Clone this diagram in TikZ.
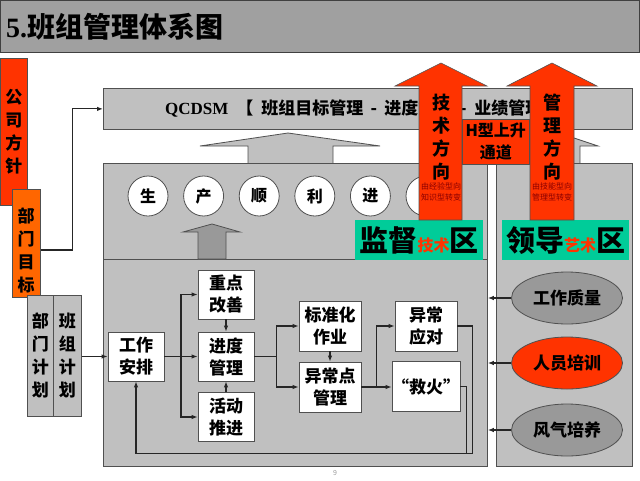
\documentclass[tikz,border=0pt]{standalone}
\usepackage{fontspec}
\setmainfont{Noto Sans CJK SC}
\newfontfamily\serifrm{Liberation Serif}
\usetikzlibrary{arrows.meta, shapes.geometric, positioning, calc}

\definecolor{titlegray}{HTML}{A0A0A0}
\definecolor{panelgray}{HTML}{C0C0C0}
\definecolor{ovalgray}{HTML}{999999}
\definecolor{edgegray}{HTML}{505050}
\definecolor{redorange}{HTML}{FF3300}
\definecolor{orangebox}{HTML}{FF6600}
\definecolor{tealbox}{HTML}{00CC99}
\definecolor{notered}{HTML}{8A0000}

\tikzset{
  panel/.style={draw=edgegray, fill=panelgray, line width=0.8pt, inner sep=0pt},
  vlabel/.style={draw=edgegray, line width=0.6pt, inner sep=0pt, align=center,
    font=\fontsize{17}{23}\selectfont\bfseries},
  vtext/.style={align=center, inner sep=0pt, font=\fontsize{17}{23}\selectfont\bfseries},
  workbox/.style={draw=edgegray, fill=white, line width=0.8pt, inner sep=0pt,
    minimum width=56, minimum height=49, align=center,
    font=\fontsize{17}{22}\selectfont\bfseries},
  wordcircle/.style={circle, draw=edgegray, fill=white, line width=0.8pt,
    minimum size=40, inner sep=0pt, font=\fontsize{16}{16}\selectfont\bfseries},
  oval/.style={ellipse, draw=edgegray, line width=0.8pt, minimum width=111,
    minimum height=52, inner sep=0pt, font=\fontsize{17}{17}\selectfont\bfseries},
  redarrow/.style={draw=edgegray, fill=redorange, line width=0.6pt},
  arrowtext/.style={align=center, inner sep=0pt, font=\fontsize{18}{23}\selectfont\bfseries},
  notetext/.style={align=center, inner sep=0pt, text=notered, font=\fontsize{8}{10.5}\selectfont},
  zone/.style={fill=tealbox, minimum height=40, anchor=north west, inner sep=0pt},
  flow/.style={draw=black!85, line width=1.1pt, -{Latex[length=6pt,width=4.5pt]}},
  line/.style={draw=black!85, line width=1.1pt}
}

\begin{document}
\begin{tikzpicture}[x=1pt, y=-1pt]
\useasboundingbox (0,0) rectangle (640,480);

% title bar
\draw[fill=titlegray, draw=black!75, line width=1.2pt] (0.6,0.6) rectangle (639.4,52.5);
\node[anchor=west, inner sep=0pt, font=\fontsize{28}{28}\selectfont\bfseries] (title) at (6,27)
  {{\serifrm 5.}班组管理体系图};

% goals on the left
\node[vlabel, fill=redorange, minimum width=27, minimum height=147, anchor=north west] (policy) at (0,58) {公\\司\\方\\针};
\node[vlabel, fill=orangebox, minimum width=28, minimum height=108, anchor=north west] (deptgoal) at (12,189) {};
\node[vtext] (deptgoaltext) at (26,250) {部\\门\\目\\标};

% QCDSM bar
\node[panel, minimum width=529, minimum height=41, anchor=north west] (qcdsm) at (103,88) {};
\node[anchor=west, inner sep=0pt, font=\fontsize{17}{17}\selectfont\bfseries] (qcdsmtext) at (165,109)
  {{\serifrm QCDSM}\hspace{8pt}【\hspace{8pt}班组目标管理\makebox[21pt]{-}进度管理\makebox[22pt]{-}业绩管理\hspace{4pt}】};
\draw[flow] (deptgoal.east |- deptgoaltext) -- ++(32,0) |- (qcdsm.west);

% gray block arrows under the bar
\draw[panel] (248,163) -- (248,146) -- (200,146) -- (288,133) -- (380,146) -- (333,146) -- (333,163);
\draw[panel] (538,163) -- (538,146) -- (520,146) -- (559,133) -- (598,146) -- (580,146) -- (580,163);

% panels
\node[panel, minimum width=384, minimum height=96, anchor=north west] (uppanel) at (103,163) {};
\node[panel, minimum width=384, minimum height=207, anchor=north west] (lowpanel) at (103,259) {};
\node[panel, minimum width=136, minimum height=303, anchor=north west] (rightpanel) at (496,163) {};

% circles
\foreach \ch [count=\i] in {生,产,顺,利,进,{}}
  \node[wordcircle] (c\i) at ({148+55.6*(\i-1)},196) {\ch};

% small up arrow
\draw[fill=ovalgray, draw=edgegray, line width=0.8pt]
  (198,259) -- (198,232) -- (183,232) -- (212,224) -- (240,232) -- (226,232) -- (226,259) -- cycle;

% zones
\node[zone, minimum width=128] (supzone) at (355,220)
  {{\fontsize{29}{29}\selectfont\bfseries 监督}{\fontsize{16}{16}\selectfont\bfseries\color{redorange}技术}{\fontsize{29}{29}\selectfont\bfseries 区}};
\node[zone, minimum width=127] (leadzone) at (502,220)
  {{\fontsize{29}{29}\selectfont\bfseries 领导}{\fontsize{16}{16}\selectfont\bfseries\color{redorange}艺术}{\fontsize{29}{29}\selectfont\bfseries 区}};

% H channel
\node[draw=edgegray, fill=redorange, line width=0.6pt, minimum width=67, minimum height=45, anchor=north west,
  inner sep=0pt, align=center, font=\fontsize{16}{22}\selectfont\bfseries] (hchannel) at (462,119) {H型上升\\通道};

% red arrows
\draw[redarrow] (419,220) -- (419,86) -- (395,86) -- (441,63) -- (487,86) -- (462,86) -- (462,220) -- cycle;
\node[arrowtext] (techdir) at (441,137.5) {技\\术\\方\\向};
\node[notetext] (technote) at (441,192) {由经验型向\\知识型转变};
\draw[redarrow] (530,220) -- (530,86) -- (507,86) -- (552,63) -- (597,86) -- (574,86) -- (574,220) -- cycle;
\node[arrowtext] (mgmtdir) at (552,137.5) {管\\理\\方\\向};
\node[notetext] (mgmtnote) at (552,192) {由技能型向\\管理型转变};

% plans
\node[vlabel, fill=panelgray, minimum width=26, minimum height=121, anchor=north west] (deptplan) at (27,295) {部\\门\\计\\划};
\node[vlabel, fill=panelgray, minimum width=28, minimum height=121, anchor=north west] (teamplan) at (53,295) {班\\组\\计\\划};

% work boxes
\node[workbox] (plan) at (136,356.5) {工作\\安排};
\node[workbox] (focus) at (226,294.5) {重点\\改善};
\node[workbox] (progress) at (226,356.5) {进度\\管理};
\node[workbox] (activity) at (226,417) {活动\\推进};
\node[workbox, minimum width=62, minimum height=50] (standard) at (330,326) {标准化\\作业};
\node[workbox, minimum width=62, minimum height=50] (abnormal) at (330,387) {异常点\\管理};
\node[workbox, minimum width=62, minimum height=50] (response) at (426,326) {异常\\应对};
\node[workbox, minimum width=62, minimum height=50] (firefight) at (426,386.5) {“救火”};

% connectors
\draw[flow] (teamplan.east |- plan.west) -- (plan.west);
\draw[flow] (plan.east) -- (progress.west);
\coordinate (split1) at ($(plan.east)!0.5!(progress.west)$);
\draw[flow] (split1) |- (focus.west);
\draw[flow] (split1) |- (activity.west);
\draw[flow] (focus.south) -- (progress.north);
\draw[flow] (activity.north) -- (progress.south);
\coordinate (split2) at ($(progress.east)!0.5!(progress.east -| standard.west)$);
\draw[line] (progress.east) -- (split2);
\draw[flow] (split2) |- (standard.west);
\draw[flow] (split2) |- (abnormal.west);
\draw[flow] (standard.south) -- (abnormal.north);
\draw[flow] (abnormal.east) -- (abnormal.east -| firefight.west);
\coordinate (split3) at ($(abnormal.east)!0.5!(abnormal.east -| firefight.west)$);
\draw[flow] (split3) |- (response.west);
\coordinate (loopend) at ($(plan.south)+(0,72)$);
\draw[flow] (response.east) -- ++(15,0) |- (loopend) -- (plan.south);
\draw[line] (firefight.east) -- ++(6,0) |- (loopend);

% right side ovals
\node[oval, fill=ovalgray] (quality) at (567,298) {工作质量};
\node[oval, fill=redorange] (training) at (567,363) {人员培训};
\node[oval, fill=ovalgray] (culture) at (567,430) {风气培养};
\foreach \o in {quality, training, culture}
  \draw[flow] (\o.west) -- (\o.west -| lowpanel.east);

% page number
\node[font=\fontsize{7}{7}\selectfont, text=black!40] (pagenum) at (335,473) {9};
\end{tikzpicture}
\end{document}
